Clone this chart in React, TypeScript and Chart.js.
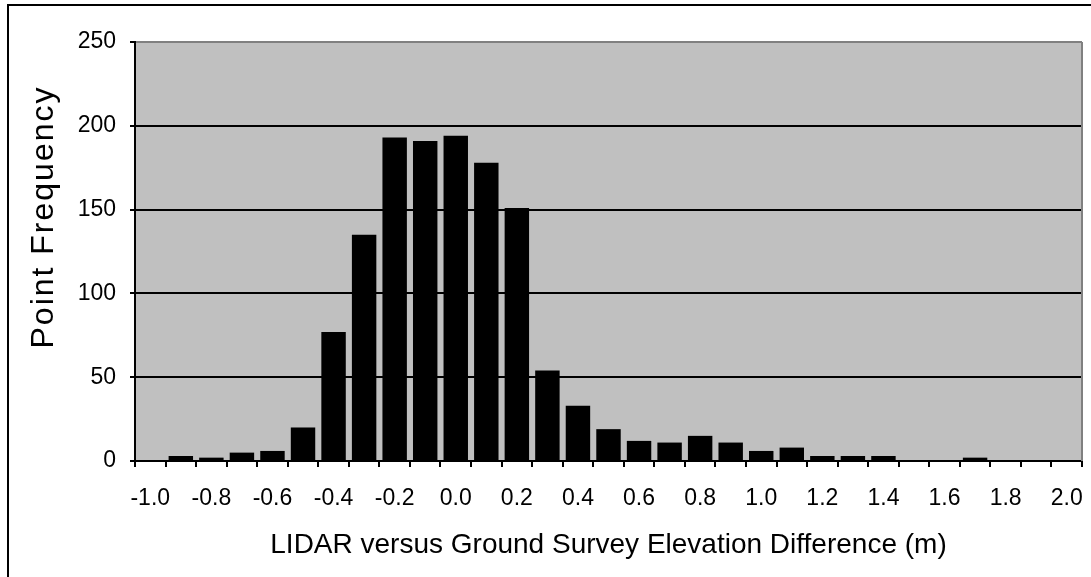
import React, { useEffect, useRef } from "react";
import { Chart, registerables } from "chart.js";

Chart.register(...registerables);

const categories = [
  "-1.0", "-0.9", "-0.8", "-0.7", "-0.6", "-0.5", "-0.4", "-0.3", "-0.2", "-0.1",
  "0.0", "0.1", "0.2", "0.3", "0.4", "0.5", "0.6", "0.7", "0.8", "0.9",
  "1.0", "1.1", "1.2", "1.3", "1.4", "1.5", "1.6", "1.7", "1.8", "1.9", "2.0",
];

const frequencies = [
  0, 3, 2, 5, 6, 20, 77, 135, 193, 191,
  194, 178, 151, 54, 33, 19, 12, 11, 15, 11,
  6, 8, 3, 3, 3, 0, 0, 2, 0, 0, 0,
];

const xTickLabels = [
  "-1.0", "-0.8", "-0.6", "-0.4", "-0.2", "0.0", "0.2", "0.4",
  "0.6", "0.8", "1.0", "1.2", "1.4", "1.6", "1.8", "2.0",
];

const yMin = 0;
const yMax = 250;
const yStep = 50;

const xTitle = "LIDAR versus Ground Survey Elevation Difference (m)";
const yTitle = "Point Frequency";

const FONT = "'Liberation Sans', Arial, sans-serif";

export default function App() {
  const canvasRef = useRef<HTMLCanvasElement | null>(null);

  useEffect(() => {
    const canvas = canvasRef.current;
    if (!canvas) return;

    const plotPlugin = {
      id: "plotBackground",
      beforeDraw(chart: any) {
        const { ctx, chartArea } = chart;
        ctx.save();
        ctx.fillStyle = "#ffffff";
        ctx.fillRect(0, 0, chart.width, chart.height);
        ctx.fillStyle = "#c0c0c0";
        ctx.fillRect(
          chartArea.left,
          chartArea.top,
          chartArea.right - chartArea.left,
          chartArea.bottom - chartArea.top
        );
        ctx.restore();
      },
      beforeDatasetsDraw(chart: any) {
        const { ctx, chartArea } = chart;
        ctx.save();
        ctx.strokeStyle = "#808080";
        ctx.lineWidth = 2;
        ctx.beginPath();
        ctx.moveTo(chartArea.right, chartArea.top);
        ctx.lineTo(chartArea.right, chartArea.bottom);
        ctx.stroke();
        ctx.restore();
      },
      afterDraw(chart: any) {
        const { ctx } = chart;
        ctx.save();
        ctx.translate(44, 217);
        ctx.rotate(-Math.PI / 2);
        ctx.font = `32px ${FONT}`;
        (ctx as any).letterSpacing = "2px";
        ctx.fillStyle = "#000";
        ctx.textAlign = "center";
        ctx.textBaseline = "middle";
        ctx.fillText(yTitle, 0, 0);
        (ctx as any).letterSpacing = "0px";
        ctx.restore();
      },
    };

    const chart = new Chart(canvas, {
      type: "bar",
      data: {
        labels: categories,
        datasets: [
          {
            data: frequencies,
            backgroundColor: "#000000",
            borderWidth: 0,
            barPercentage: 0.8,
            categoryPercentage: 1.0,
          },
        ],
      },
      options: {
        animation: false,
        responsive: true,
        maintainAspectRatio: false,
        layout: { padding: { top: 42, right: 9, left: 0, bottom: 0 } },
        plugins: {
          legend: { display: false },
          tooltip: { enabled: false },
        },
        scales: {
          x: {
            type: "category",
            offset: true,
            grid: {
              offset: true,
              drawOnChartArea: false,
              drawTicks: true,
              tickLength: 6,
              color: "#000",
              tickColor: "#000",
              lineWidth: 2,
            },
            border: { display: true, color: "#000", width: 2 },
            ticks: {
              autoSkip: false,
              maxRotation: 0,
              minRotation: 0,
              padding: 18,
              color: "#000",
              font: { family: FONT, size: 23 },
              callback: (_v: any, i: number) => (i % 2 === 0 ? xTickLabels[i / 2] : ""),
            },
            title: {
              display: true,
              text: xTitle,
              color: "#000",
              font: { family: FONT, size: 28 },
              padding: { top: 4, bottom: 15 },
            },
            afterFit: (scale: any) => {
              scale.height = 116;
              scale.paddingLeft = 0;
              scale.paddingRight = 0;
            },
          },
          y: {
            min: yMin,
            max: yMax,
            grid: {
              drawTicks: true,
              tickLength: 5,
              lineWidth: 2,
              color: (c: any) => (c.tick && c.tick.value === yMax ? "#808080" : "#000"),
              tickColor: "#000",
            },
            border: { display: true, color: "#000", width: 2 },
            ticks: {
              stepSize: yStep,
              padding: 14,
              color: "#000",
              font: { family: FONT, size: 23 },
            },
            afterFit: (scale: any) => {
              scale.width = 135;
              scale.paddingTop = 0;
              scale.paddingBottom = 0;
            },
          },
        },
      },
      plugins: [plotPlugin],
    });

    return () => chart.destroy();
  }, []);

  return (
    <div
      style={{
        position: "fixed",
        left: 0,
        top: 0,
        width: 1091,
        height: 577,
        overflow: "hidden",
        background: "#fff",
      }}
    >
      <canvas ref={canvasRef} />
      <div
        style={{
          position: "absolute",
          left: 7,
          top: 4,
          width: 1200,
          height: 700,
          borderTop: "2px solid #000",
          borderLeft: "2px solid #000",
          pointerEvents: "none",
        }}
      />
    </div>
  );
}
